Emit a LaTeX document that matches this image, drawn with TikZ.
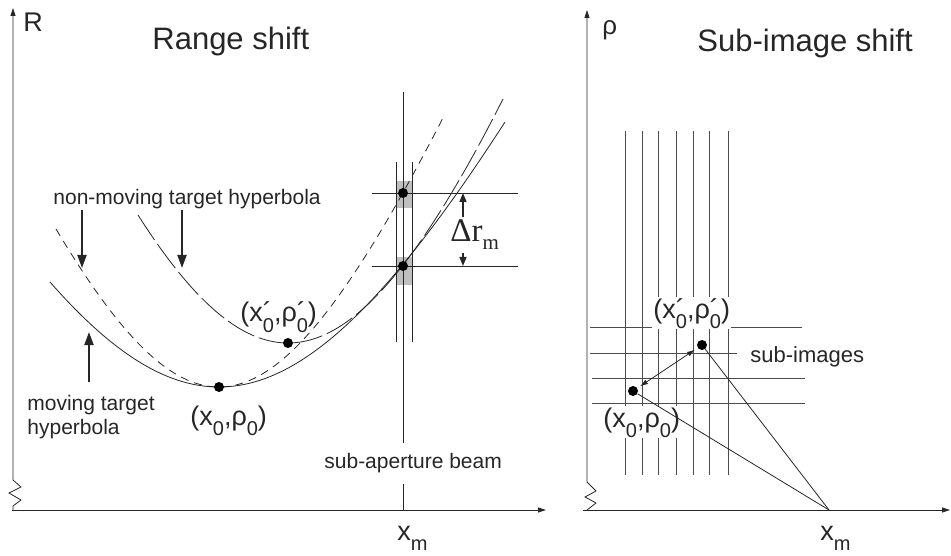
\documentclass[tikz,border=0pt]{standalone}
\usepackage{fontspec}
\setmainfont{Liberation Sans}
\newfontfamily\serifd{Liberation Serif}
\usetikzlibrary{arrows.meta}

\newcommand{\fsz}[1]{\fontsize{#1}{#1}\selectfont}
\newcommand{\lowsub}[1]{\raisebox{-0.38em}{\fsz{20}#1}}
\newcommand{\lowsubp}[1]{\rlap{´}\lowsub{#1}}

\begin{document}
\begin{tikzpicture}[x=1pt, y=-1pt, line width=0.8pt, color=black!85,
  tgt/.style={circle, fill=black, inner sep=0pt, minimum size=10pt},
  lab/.style={inner sep=0pt, anchor=base west, font=\fsz{21}},
  bigarr/.style={line width=2pt, -{Triangle[length=13pt,width=9pt]}},
  midarr/.style={line width=1.5pt, -{Triangle[length=9pt,width=7pt]}},
  axarr/.style={-{Triangle[length=8pt,width=5pt]}},
  gridl/.style={draw=black!70}]
  \useasboundingbox (0,0) rectangle (951,556);

  % 左图：坐标轴
  \draw[axarr] (13,510) -- (13,506) -- (21,500) -- (9,493) -- (21,487) -- (13,480) -- (13,8);
  \draw[axarr] (12,510) -- (546,510);
  \node[lab, font=\fsz{27}] (Rlab) at (23,32) {R};
  \node[lab, font=\fsz{31}] (title1) at (152,50) {Range shift};

  % sub-aperture beam
  \coordinate (Q1) at (403,193);
  \coordinate (Q2) at (403,266);
  \fill[black!25] (396,181) rectangle (412,208);
  \fill[black!25] (396,257) rectangle (412,285);
  \draw (403,92) -- (403,443);
  \draw (403,484) -- (403,510);
  \draw (396,162) -- (396,342);
  \draw (412,162) -- (412,342);
  \draw (372,193) -- (518,193);
  \draw (372,266) -- (518,266);
  \node[lab] (beam) at (324,468) {sub-aperture beam};

  % 双曲线
  \draw[dash pattern=on 8pt off 6pt] plot[domain=56:445, samples=90]
    (\x, {387-100*(sqrt(18.5761+6.066*((\x-219)/100)*((\x-219)/100))-4.31)});
  \draw[dash pattern=on 30pt off 5pt] plot[domain=138:503, samples=90]
    (\x, {343-100*(sqrt(46.5124+8.488*((\x-288)/100)*((\x-288)/100))-6.82)});
  \draw plot[domain=50:505, samples=90]
    (\x, {387-100*(sqrt(29.2681+4.364*((\x-219)/100)*((\x-219)/100))-5.41)});

  \node[tgt] (P0) at (219,387) {};
  \node[tgt] (P1) at (288,343) {};
  \node[tgt] (B1) at (Q1) {};
  \node[tgt] (B2) at (Q2) {};
  \node[lab, font=\fsz{27}] (lab0) at (190,425) {(x\lowsub{0},ρ\lowsub{0})};
  \node[lab, font=\fsz{27}] (lab1) at (240,322) {(x\lowsubp{0},ρ\lowsubp{0})};

  % Δr_m
  \coordinate (D1) at (463,193);
  \coordinate (D2) at (463,266);
  \node[anchor=base west, inner sep=3pt, font=\serifd\fsz{33}] (dr) at (447,242)
    {Δr\raisebox{-8pt}{\fsz{21}m}};
  \draw[midarr] (D1 |- dr.north) -- (D1);
  \draw[midarr] (D2 |- dr.south) -- (D2);

  \node[lab] (nonmov) at (53,205) {non-moving target hyperbola};
  \coordinate (h1) at (82,268);
  \coordinate (h2) at (182,268);
  \draw[bigarr] (nonmov.south -| h1) -- (h1);
  \draw[bigarr] (nonmov.south -| h2) -- (h2);
  \node[lab, anchor=north west, outer ysep=13pt, align=left,
    font=\fontsize{21}{24}\selectfont] (mov) at (27,382) {moving target\\hyperbola};
  \coordinate (h3) at (89,332);
  \draw[bigarr] (mov.north -| h3) -- (h3);

  \node[lab, font=\fsz{27}] (xm1) at (397,540) {x\lowsub{m}};

  % 右图
  \draw[axarr] (587,510) -- (596,503) -- (585,497) -- (596,491) -- (587,482) -- (587,10);
  \draw[axarr] (583,510) -- (950,510);
  \node[lab, font=\fsz{26}] (rholab) at (602,35) {ρ};
  \node[lab, font=\fsz{31}] (title2) at (697,52) {Sub-image shift};

  \foreach \gx in {625,642,658,676,693,709,728}
    \draw[gridl] (\gx,131) -- (\gx,475);
  \draw[gridl] (590,327) -- (802,327);
  \draw[gridl] (590,353) -- (737,353);
  \draw[gridl] (592,378) -- (805,378);
  \draw[gridl] (592,403) -- (805,403);
  \node[lab, font=\fsz{22}] (subim) at (750,362) {sub-images};
  \node[lab, font=\fsz{27}, fill=white, inner sep=1pt] (img1) at (652,318) {(x\lowsubp{0},ρ\lowsubp{0})};
  \node[lab, font=\fsz{27}, fill=white, inner sep=1pt] (img0) at (602,427) {(x\lowsub{0},ρ\lowsub{0})};

  \node[tgt] (S1) at (702,345) {};
  \node[tgt] (S0) at (633,391) {};
  \coordinate (XM) at (829,510);
  \draw (S1) -- (XM);
  \draw (S0) -- (XM);
  \draw[{Latex[length=8pt,width=5pt]}-{Latex[length=8pt,width=5pt]}, shorten <=3pt, shorten >=3pt] (S1) -- (S0);
  \node[lab, font=\fsz{27}] (xm2) at (820,540) {x\lowsub{m}};
\end{tikzpicture}
\end{document}
